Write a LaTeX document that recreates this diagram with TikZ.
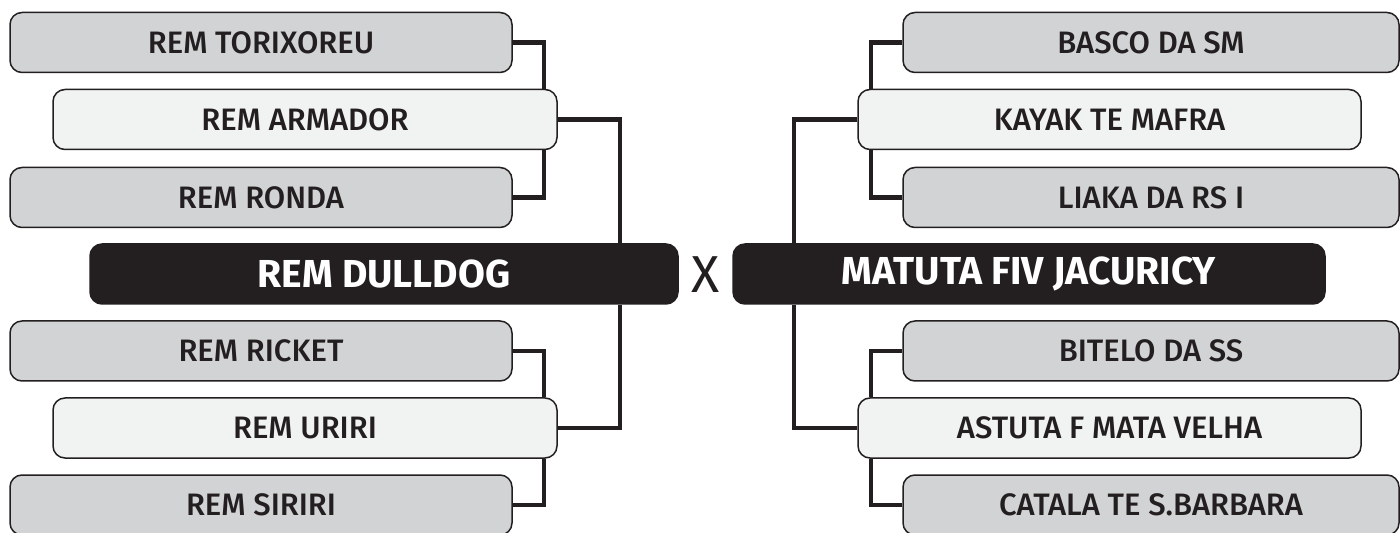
\documentclass[tikz,border=0pt]{standalone}
\usepackage{fontspec}
\setmainfont{Fira Sans Medium}[BoldFont=Fira Sans Bold]
\newfontfamily\versusfont{Fira Sans}
\usetikzlibrary{backgrounds}
\definecolor{ink}{HTML}{231F20}
\definecolor{boxgray}{HTML}{D1D3D4}
\definecolor{boxlight}{HTML}{F1F2F2}
\tikzset{
  team/.style={draw=ink, line width=0.75pt, rounded corners=6pt, minimum height=30pt,
    inner sep=0pt, text=ink, font=\fontsize{15.5}{17}\selectfont},
  graybox/.style={team, fill=boxgray, minimum width=251pt},
  lightbox/.style={team, fill=boxlight, minimum width=252pt},
  finalbox/.style={team, fill=ink, text=white, font=\fontsize{19.5}{22}\selectfont\bfseries},
  conn/.style={draw=ink, line width=2.4pt},
  versus/.style={text=ink, inner sep=0pt, font=\versusfont\fontsize{26}{28}\selectfont}
}
\begin{document}
\begin{tikzpicture}[x=0.5pt, y=-0.5pt]
\useasboundingbox (0,0) rectangle (1400,533);
% left side
\node[graybox] (tor) at (261,42.5) {REM TORIXOREU};
\node[lightbox] (arm) at (305,119.5) {REM ARMADOR};
\node[graybox] (ron) at (261,197.5) {REM RONDA};
\node[finalbox, minimum width=294pt] (dul) at (384,274) {REM DULLDOG};
\node[graybox] (ric) at (261,351) {REM RICKET};
\node[lightbox] (uri) at (305,428) {REM URIRI};
\node[graybox] (sir) at (261,505) {REM SIRIRI};
% centre
\node[versus] (x) at (706,275) {X};
% right side
\node[graybox, minimum width=248pt] (bas) at (1151,42.5) {BASCO DA SM};
\node[lightbox, minimum width=251.5pt] (kay) at (1109.5,119.5) {KAYAK TE MAFRA};
\node[graybox, minimum width=248pt] (lia) at (1151,197.5) {LIAKA DA RS I};
\node[finalbox, minimum width=296pt] (mat) at (1029,274) {MATUTA FIV JACURICY};
\node[graybox, minimum width=248pt] (bit) at (1151,351) {BITELO DA SS};
\node[lightbox, minimum width=251.5pt] (ast) at (1109.5,428) {ASTUTA F MATA VELHA};
\node[graybox, minimum width=248pt] (cat) at (1151,505) {CATALA TE S.BARBARA};
% connector columns
\coordinate (li) at (544,0);
\coordinate (lo) at (620,0);
\coordinate (ri) at (871,0);
\coordinate (ro) at (794,0);
\begin{scope}[on background layer]
\draw[conn] (tor.east) -| (li |- arm.north);
\draw[conn] (ron.east) -| (li |- arm.south);
\draw[conn] (arm.east) -| (lo |- dul.north);
\draw[conn] (ric.east) -| (li |- uri.north);
\draw[conn] (sir.east) -| (li |- uri.south);
\draw[conn] (uri.east) -| (lo |- dul.south);
\draw[conn] (bas.west) -| (ri |- kay.north);
\draw[conn] (lia.west) -| (ri |- kay.south);
\draw[conn] (kay.west) -| (ro |- mat.north);
\draw[conn] (bit.west) -| (ri |- ast.north);
\draw[conn] (cat.west) -| (ri |- ast.south);
\draw[conn] (ast.west) -| (ro |- mat.south);
\end{scope}
\end{tikzpicture}
\end{document}
